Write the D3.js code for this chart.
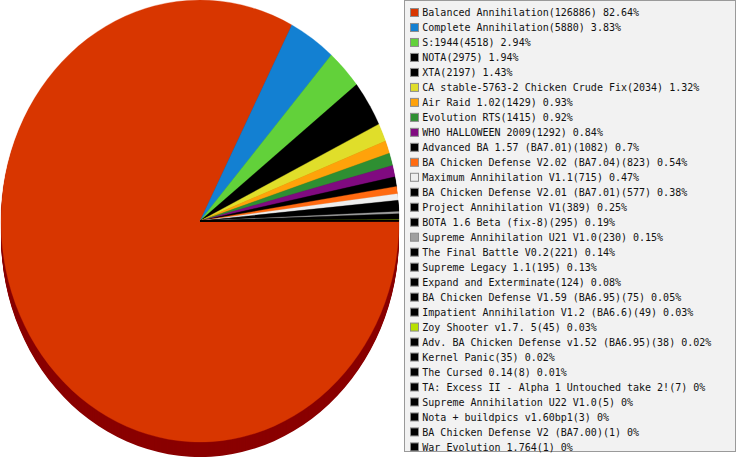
<!DOCTYPE html>
<html>
<head>
<meta charset="utf-8">
<script src="https://cdn.jsdelivr.net/npm/d3@7"></script>
<style>
  body { margin: 0; background: #fff; }
  svg { display: block; }
</style>
</head>
<body>
<svg id="mainsvg" width="737" height="460"></svg>
<script>
// mods and their game counts, in legend order
const mods = [
  'Balanced Annihilation', 'Complete Annihilation', 'S:1944', 'NOTA', 'XTA',
  'CA stable-5763-2 Chicken Crude Fix', 'Air Raid 1.02', 'Evolution RTS', 'WHO HALLOWEEN 2009',
  'Advanced BA 1.57 (BA7.01)', 'BA Chicken Defense V2.02 (BA7.04)', 'Maximum Annihilation V1.1',
  'BA Chicken Defense V2.01 (BA7.01)', 'Project Annihilation V1', 'BOTA 1.6 Beta (fix-8)',
  'Supreme Annihilation U21 V1.0', 'The Final Battle V0.2', 'Supreme Legacy 1.1',
  'Expand and Exterminate', 'BA Chicken Defense V1.59 (BA6.95)', 'Impatient Annihilation V1.2 (BA6.6)',
  'Zoy Shooter v1.7. 5', 'Adv. BA Chicken Defense v1.52 (BA6.95)', 'Kernel Panic', 'The Cursed 0.14',
  'TA: Excess II - Alpha 1 Untouched take 2!', 'Supreme Annihilation U22 V1.0',
  'Nota + buildpics v1.60bp1', 'BA Chicken Defense V2 (BA7.00)', 'War Evolution 1.764'
]
const counts = [
  126886, 5880, 4518, 2975, 2197, 2034, 1429, 1415, 1292, 1082, 823, 715, 577, 389, 295,
  230, 221, 195, 124, 75, 49, 45, 38, 35, 8, 7, 5, 3, 1, 1
]
const colors = [
  '#d83600', '#1380d2', '#62d13a', '#000000', '#000000', '#e0de2a', '#ffa20a', '#2e8f32',
  '#800a80', '#000000', '#ff6a10', '#eeeeee', '#000000', '#000000', '#000000', '#a0a0a0',
  '#000000', '#000000', '#000000', '#000000', '#000000', '#b8e000', '#000000', '#000000',
  '#000000', '#000000', '#000000', '#000000', '#000000', '#000000'
]

const data = mods.map((m, i) => ({name: m, value: counts[i], color: colors[i]}))
const total = d3.sum(counts)

const svg = d3.select('#mainsvg')

// pie is an ellipse with a 15px side wall underneath
const cx = 200, cy = 221, rx = 199, ry = 221, depth = 15

const pie = d3.pie().sort(null).value(d => d.value)
  .startAngle(Math.PI / 2).endAngle(Math.PI / 2 + 2 * Math.PI)
const arc = d3.arc().innerRadius(0).outerRadius(rx)
const arcs = pie(data)

const side = svg.append('g')
  .attr('transform', `translate(${cx},${cy + depth}) scale(1,${ry / rx})`)
for (let k = depth; k > 0; k--) {
  side.selectAll(null)
    .data(arcs)
    .enter().append('path')
    .attr('d', arc)
    .attr('transform', `translate(0,${(k - depth) * rx / ry})`)
    .attr('fill', d => d.data.color === '#d83600' ? '#8a0000' : d3.color(d.data.color).darker(1.2))
}

const face = svg.append('g')
  .attr('transform', `translate(${cx},${cy}) scale(1,${ry / rx})`)
face.selectAll('path')
  .data(arcs)
  .enter().append('path')
  .attr('d', arc)
  .attr('fill', d => d.data.color)
  .attr('stroke', d => d.data.color)
  .attr('stroke-width', 0.3)

// legend
const lx = 404.5, ly = 0.5, lw = 331, lh = 451
const rowH = 14.98, firstRow = 12.5

const legend = svg.append('g')
legend.append('rect')
  .attr('x', lx).attr('y', ly)
  .attr('width', lw).attr('height', lh)
  .attr('fill', '#f2f2f2')
  .attr('stroke', '#9a9a9a')

const rows = legend.selectAll('g.row')
  .data(data)
  .enter().append('g')
  .attr('class', 'row')
  .attr('transform', (d, i) => `translate(0,${firstRow + i * rowH})`)

rows.append('rect')
  .attr('x', 410.5).attr('y', -4)
  .attr('width', 8).attr('height', 8)
  .attr('fill', d => d.color)
  .attr('stroke', '#8c8c8c')

rows.append('text')
  .attr('x', 422.3).attr('y', 3.8)
  .attr('font-family', 'DejaVu Sans Mono, monospace')
  .attr('font-size', '10px')
  .attr('fill', '#111')
  .text(d => `${d.name}(${d.value}) ${+(d.value / total * 100).toFixed(2)}%`)
</script>
</body>
</html>
